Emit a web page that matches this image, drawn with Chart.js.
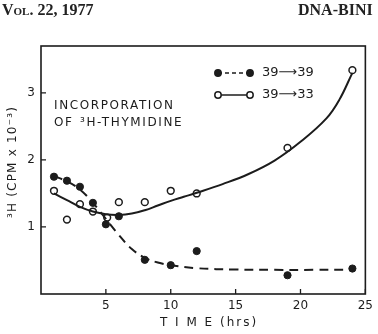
<!DOCTYPE html>
<html>
<head>
<meta charset="utf-8">
<script src="https://cdn.jsdelivr.net/npm/chart.js@4"></script>
<style>
  body { margin: 0; background: #fff; }
  #wrap { position: relative; width: 378px; height: 334px; }
  .hdr { position: absolute; top: 1px; font-family: "Liberation Serif", "DejaVu Serif", serif;
         font-weight: bold; font-size: 16px; color: #222; white-space: nowrap; }
</style>
</head>
<body>
<div id="wrap">
  <div class="hdr" style="left:2px; font-variant: small-caps;">Vol. 22, 1977</div>
  <div class="hdr" style="left:298px;">DNA-BINI</div>
  <canvas id="chart" width="378" height="334"></canvas>
</div>
<script>
// measured points, 39 -> 39 (filled) and 39 -> 33 (open)
const hoursFilled = [1, 2, 3, 4, 5, 6, 8, 10, 12, 19, 24];
const cpmFilled = [1.75, 1.69, 1.60, 1.36, 1.04, 1.16, 0.51, 0.43, 0.64, 0.28, 0.38];
const hoursOpen = [1, 2, 3, 4, 5.1, 6, 8, 10, 12, 19, 24];
const cpmOpen = [1.54, 1.11, 1.34, 1.23, 1.14, 1.37, 1.37, 1.54, 1.50, 2.18, 3.34];

// hand drawn fitted curves
const curveHoursDashed = [1, 2, 3, 4, 5, 6, 7, 8, 9, 10, 12, 15, 18, 21, 24];
const curveCpmDashed = [1.76, 1.68, 1.56, 1.36, 1.12, 0.88, 0.67, 0.54, 0.47, 0.43, 0.385, 0.365, 0.36, 0.36, 0.36];
const curveHoursSolid = [1, 2, 3, 4, 5, 6, 7, 8, 9, 10, 11, 12, 14, 16, 18, 20, 22, 23, 24];
const curveCpmSolid = [1.50, 1.40, 1.30, 1.23, 1.19, 1.18, 1.20, 1.25, 1.32, 1.39, 1.45, 1.51, 1.64, 1.79, 1.99, 2.27, 2.62, 2.90, 3.30];

const xTicks = [5, 10, 15, 20, 25];
const yTicks = [1, 2, 3];

const ink = '#1c1c1c';
const toXY = (xs, ys) => xs.map((x, i) => ({ x: x, y: ys[i] }));

// frame, inward ticks, legend and labels
const decorations = {
  id: 'decorations',
  afterDraw(chart) {
    const ctx = chart.ctx;
    const a = chart.chartArea;
    const xs = chart.scales.x, ys = chart.scales.y;
    ctx.save();
    ctx.strokeStyle = ink;
    ctx.lineWidth = 1.6;
    ctx.strokeRect(a.left, a.top, a.right - a.left, a.bottom - a.top);

    ctx.lineWidth = 1.3;
    ctx.beginPath();
    xTicks.forEach(t => {
      const px = xs.getPixelForValue(t);
      ctx.moveTo(px, a.bottom); ctx.lineTo(px, a.bottom - 5);
    });
    yTicks.forEach(t => {
      const py = ys.getPixelForValue(t);
      ctx.moveTo(a.left, py); ctx.lineTo(a.left + 5, py);
    });
    ctx.stroke();

    // legend
    const legendRow = (y, dashed, filled, label) => {
      const x0 = 218, x1 = 250;
      ctx.lineWidth = 1.5;
      ctx.setLineDash(dashed ? [4, 3] : []);
      ctx.beginPath(); ctx.moveTo(x0, y); ctx.lineTo(x1, y); ctx.stroke();
      ctx.setLineDash([]);
      [x0, x1].forEach(px => {
        ctx.beginPath(); ctx.arc(px, y, 3.2, 0, Math.PI * 2);
        ctx.fillStyle = filled ? ink : '#fff';
        ctx.fill(); ctx.stroke();
      });
      ctx.fillStyle = ink;
      ctx.font = '13px "DejaVu Sans", sans-serif';
      ctx.textBaseline = 'middle';
      ctx.textAlign = 'left';
      ctx.fillText(label, 262, y);
    };
    legendRow(73, true, true, '39\u27F639');
    legendRow(95, false, false, '39\u27F633');

    // annotation
    ctx.fillStyle = ink;
    ctx.font = '12px "DejaVu Sans", sans-serif';
    ctx.letterSpacing = '1.6px';
    ctx.textBaseline = 'middle';
    ctx.fillText('INCORPORATION', 54, 106);
    ctx.fillText('OF', 54, 123);
    ctx.fillText('\u00B3H-THYMIDINE', 80, 123);

    // axis titles
    ctx.letterSpacing = '2px';
    ctx.textAlign = 'center';
    ctx.fillText('T I M E (hrs)', 209, 323);
    ctx.letterSpacing = '1.2px';
    ctx.translate(13, 162);
    ctx.rotate(-Math.PI / 2);
    ctx.fillText('\u00B3H (CPM x 10\u207B\u00B3)', 0, 0);
    ctx.restore();
  }
};

new Chart(document.getElementById('chart').getContext('2d'), {
  type: 'scatter',
  data: {
    datasets: [
      {
        label: 'fit 39->39',
        data: toXY(curveHoursDashed, curveCpmDashed),
        showLine: true,
        borderColor: ink,
        borderWidth: 2,
        borderDash: [9, 6],
        tension: 0.4,
        pointRadius: 0
      },
      {
        label: 'fit 39->33',
        data: toXY(curveHoursSolid, curveCpmSolid),
        showLine: true,
        borderColor: ink,
        borderWidth: 2,
        tension: 0.4,
        pointRadius: 0
      },
      {
        label: '39->39',
        data: toXY(hoursFilled, cpmFilled),
        pointRadius: 3.6,
        pointBackgroundColor: ink,
        pointBorderColor: ink,
        pointBorderWidth: 1
      },
      {
        label: '39->33',
        data: toXY(hoursOpen, cpmOpen),
        pointRadius: 3.4,
        pointBackgroundColor: '#fff',
        pointBorderColor: ink,
        pointBorderWidth: 1.5
      }
    ]
  },
  options: {
    responsive: false,
    animation: false,
    layout: { padding: { top: 46, right: 4, left: 0, bottom: 0 } },
    plugins: { legend: { display: false }, tooltip: { enabled: false } },
    scales: {
      x: {
        type: 'linear',
        min: 0,
        max: 25,
        afterFit: s => { s.height = 40; },
        grid: { display: false, drawTicks: false },
        border: { display: false },
        ticks: {
          stepSize: 5,
          includeBounds: false,
          padding: 5,
          color: ink,
          font: { family: '"DejaVu Sans", sans-serif', size: 12 },
          callback: v => (xTicks.includes(v) ? String(v) : '')
        }
      },
      y: {
        type: 'linear',
        min: 0,
        max: 3.7,
        afterFit: s => { s.width = 41; },
        grid: { display: false, drawTicks: false },
        border: { display: false },
        ticks: {
          stepSize: 1,
          includeBounds: false,
          padding: 6,
          color: ink,
          font: { family: '"DejaVu Sans", sans-serif', size: 12 },
          callback: v => (yTicks.includes(v) ? String(v) : '')
        }
      }
    }
  },
  plugins: [decorations]
});
</script>
</body>
</html>
